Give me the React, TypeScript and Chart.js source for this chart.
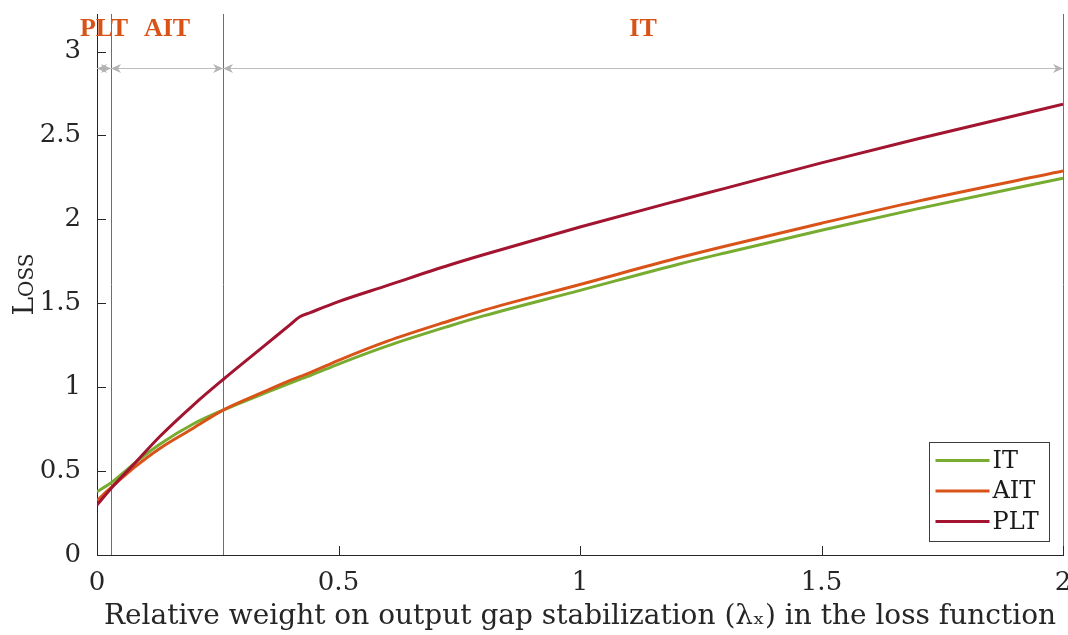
import React, { useEffect, useRef } from 'react';
import { Chart, registerables } from 'chart.js';

Chart.register(...registerables);

const xValues = [0, 0.03, 0.08, 0.13, 0.2, 0.26, 0.35, 0.4, 0.42, 0.44, 0.5, 0.6, 0.73, 0.8, 1.0, 1.2, 1.3, 1.5, 1.7, 2.0];
const itLoss = [0.377, 0.432, 0.552, 0.66, 0.782, 0.862, 0.968, 1.025, 1.047, 1.068, 1.138, 1.245, 1.365, 1.425, 1.577, 1.73, 1.8, 1.935, 2.064, 2.245];
const aitLoss = [0.325, 0.404, 0.528, 0.635, 0.757, 0.862, 0.978, 1.04, 1.063, 1.085, 1.16, 1.273, 1.396, 1.458, 1.612, 1.768, 1.84, 1.977, 2.109, 2.288];
const pltLoss = [0.298, 0.4, 0.552, 0.706, 0.895, 1.043, 1.255, 1.373, 1.42, 1.443, 1.51, 1.605, 1.728, 1.789, 1.955, 2.11, 2.185, 2.337, 2.481, 2.686];

const seriesLabels = ['IT', 'AIT', 'PLT'];
const seriesColors = ['#77AC30', '#D95319', '#A2142F'];

const regionBounds = [0, 0.029, 0.261, 2];
const regionLabels = ['PLT', 'AIT', 'IT'];
const arrowLevel = 2.9;
const regionLabelLevel = 3.13;

const xTicks = [0, 0.5, 1, 1.5, 2];
const yTicks = [0, 0.5, 1, 1.5, 2, 2.5, 3];

const SERIF = '"DejaVu Serif", "Liberation Serif", serif';
const LABEL_SERIF = '"Liberation Serif", serif';

function drawArrowHead(ctx: CanvasRenderingContext2D, x: number, y: number, dir: number) {
  ctx.beginPath();
  ctx.moveTo(x, y);
  ctx.lineTo(x - dir * 10, y - 4.5);
  ctx.lineTo(x - dir * 7, y);
  ctx.lineTo(x - dir * 10, y + 4.5);
  ctx.closePath();
  ctx.fill();
}

const decorPlugin = {
  id: 'decor',
  beforeDatasetsDraw(chart: any) {
    const { ctx, chartArea, scales } = chart;
    const xs = scales.x;
    ctx.save();
    ctx.strokeStyle = '#6e6e6e';
    ctx.lineWidth = 1;
    regionBounds.slice(1).forEach((b) => {
      const px = Math.round(xs.getPixelForValue(b)) + 0.5;
      ctx.beginPath();
      ctx.moveTo(px, chartArea.top);
      ctx.lineTo(px, chartArea.bottom);
      ctx.stroke();
    });
    ctx.restore();
  },
  afterDatasetsDraw(chart: any) {
    const { ctx, chartArea, scales } = chart;
    const xs = scales.x;
    const ys = scales.y;
    ctx.save();
    ctx.strokeStyle = '#262626';
    ctx.lineWidth = 1;
    xTicks.forEach((t) => {
      const px = Math.round(xs.getPixelForValue(t)) + 0.5;
      ctx.beginPath();
      ctx.moveTo(px, chartArea.bottom);
      ctx.lineTo(px, chartArea.bottom - 9);
      ctx.stroke();
    });
    yTicks.forEach((t) => {
      const py = Math.round(ys.getPixelForValue(t)) + 0.5;
      ctx.beginPath();
      ctx.moveTo(chartArea.left, py);
      ctx.lineTo(chartArea.left + 9, py);
      ctx.stroke();
    });
    const ay = Math.round(ys.getPixelForValue(arrowLevel)) + 0.5;
    ctx.strokeStyle = '#bdbdbd';
    ctx.fillStyle = '#b3b3b3';
    for (let i = 0; i < regionBounds.length - 1; i++) {
      const a = xs.getPixelForValue(regionBounds[i]);
      const b = xs.getPixelForValue(regionBounds[i + 1]);
      ctx.beginPath();
      ctx.moveTo(a, ay);
      ctx.lineTo(b, ay);
      ctx.stroke();
      drawArrowHead(ctx, a, ay, -1);
      drawArrowHead(ctx, b, ay, 1);
    }
    ctx.fillStyle = '#D95319';
    ctx.font = 'bold 26px ' + LABEL_SERIF;
    ctx.textAlign = 'center';
    ctx.textBaseline = 'middle';
    const ly = ys.getPixelForValue(regionLabelLevel);
    for (let i = 0; i < regionLabels.length; i++) {
      const mid = (regionBounds[i] + regionBounds[i + 1]) / 2;
      ctx.fillText(regionLabels[i], xs.getPixelForValue(mid), ly);
    }
    const w = 120;
    const h = 99;
    const lx = Math.round(chartArea.right - 14 - w) + 0.5;
    const ty = Math.round(chartArea.bottom - 14 - h) + 0.5;
    ctx.fillStyle = '#ffffff';
    ctx.fillRect(lx, ty, w, h);
    ctx.strokeStyle = '#3c3c3c';
    ctx.lineWidth = 1;
    ctx.strokeRect(lx, ty, w, h);
    ctx.font = '24px ' + SERIF;
    ctx.textAlign = 'left';
    ctx.textBaseline = 'middle';
    chart.data.datasets.forEach((ds: any, i: number) => {
      const ry = ty + 18 + i * 30.5;
      ctx.strokeStyle = ds.borderColor;
      ctx.lineWidth = 3;
      ctx.beginPath();
      ctx.moveTo(lx + 6, ry);
      ctx.lineTo(lx + 60, ry);
      ctx.stroke();
      ctx.fillStyle = '#1a1a1a';
      ctx.fillText(ds.label, lx + 63, ry + 1);
    });
    ctx.restore();
  },
};

export default function App() {
  const canvasRef = useRef<HTMLCanvasElement | null>(null);

  useEffect(() => {
    const canvas = canvasRef.current;
    if (!canvas) return;
    const seriesValues = [itLoss, aitLoss, pltLoss];
    const chart = new Chart(canvas, {
      type: 'line',
      data: {
        datasets: seriesValues.map((vals, i) => ({
          label: seriesLabels[i],
          data: xValues.map((x, j) => ({ x, y: vals[j] })),
          borderColor: seriesColors[i],
          backgroundColor: seriesColors[i],
          borderWidth: 3,
          pointRadius: 0,
          cubicInterpolationMode: 'monotone' as const,
          fill: false,
          order: 3 - i,
        })),
      },
      options: {
        responsive: false,
        animation: false,
        layout: { padding: { left: 0, top: 14, right: 5, bottom: 0 } },
        plugins: {
          legend: { display: false },
          tooltip: { enabled: false },
        },
        scales: {
          x: {
            type: 'linear',
            min: 0,
            max: 2,
            grid: { display: false },
            border: { display: true, color: '#262626', width: 1 },
            afterBuildTicks: (scale: any) => {
              scale.ticks = xTicks.map((v) => ({ value: v }));
            },
            afterFit: (scale: any) => {
              scale.height = 80;
              scale.paddingLeft = 0;
              scale.paddingRight = 0;
            },
            ticks: {
              color: '#262626',
              font: { family: SERIF, size: 26 },
              padding: 5,
              maxRotation: 0,
              autoSkip: false,
              callback: (v: any) => String(v),
            },
            title: {
              display: true,
              text: 'Relative weight on output gap stabilization (λₓ) in the loss function',
              color: '#262626',
              font: { family: SERIF, size: 28 },
              padding: { top: 0, bottom: 1 },
            },
          },
          y: {
            type: 'linear',
            min: 0,
            max: 3.224,
            grid: { display: false },
            border: { display: true, color: '#262626', width: 1 },
            afterBuildTicks: (scale: any) => {
              scale.ticks = yTicks.map((v) => ({ value: v }));
            },
            afterFit: (scale: any) => {
              scale.width = 97;
              scale.paddingTop = 0;
              scale.paddingBottom = 0;
            },
            ticks: {
              color: '#262626',
              font: { family: SERIF, size: 26 },
              padding: 8,
              autoSkip: false,
              callback: (v: any) => String(v),
            },
            title: {
              display: true,
              text: 'Loss',
              color: '#262626',
              font: { family: SERIF, size: 28, weight: 'small-caps' as any },
              padding: { top: 9, bottom: 0 },
            },
          },
        },
      },
      plugins: [decorPlugin],
    });
    return () => chart.destroy();
  }, []);

  return (
    <div style={{ position: 'absolute', left: 0, top: 0, width: 1068, height: 635, background: '#fff' }}>
      <canvas ref={canvasRef} width={1068} height={635} />
    </div>
  );
}
